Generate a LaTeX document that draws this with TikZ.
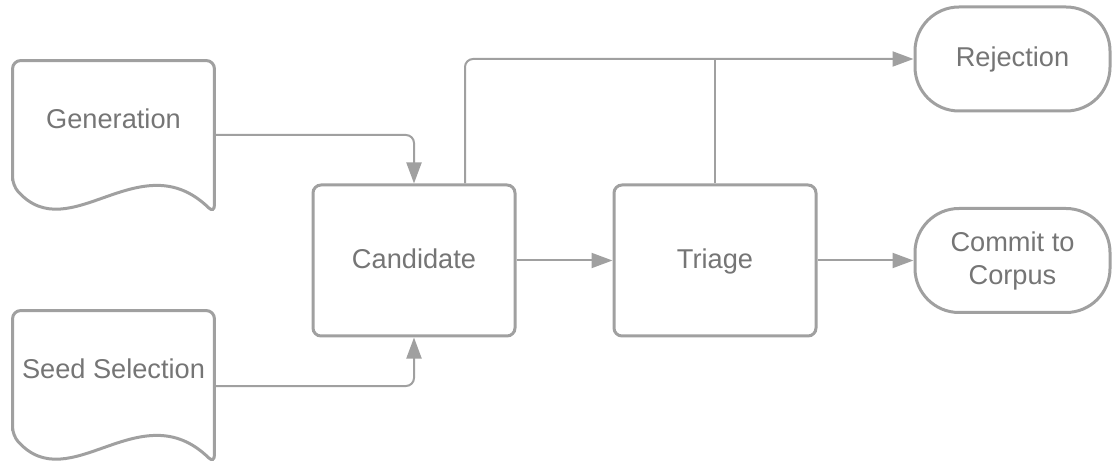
\documentclass[tikz,border=0pt]{standalone}
\usepackage{fontspec}
\setmainfont{Liberation Sans}
\usepackage{tikz}
\usetikzlibrary{arrows.meta}
\definecolor{linegray}{RGB}{160,160,160}
\definecolor{textgray}{RGB}{117,117,117}

\begin{document}
\begin{tikzpicture}[node distance=150.5pt, auto, font=\fontsize{13.6}{16.5}\selectfont, text=textgray]
% Define styles
\tikzstyle{process} = [rectangle, rounded corners=4pt, minimum width=101pt, minimum height=75.5pt, text centered, text height=10pt, text depth=2.2pt, draw=linegray, line width=1.5pt, fill=white]
\tikzstyle{terminal} = [rectangle, rounded corners=22pt, minimum width=97.5pt, minimum height=52pt, align=center, draw=linegray, line width=1.5pt, fill=white]
\tikzstyle{docnode} = [rectangle, minimum width=100.5pt, minimum height=62pt, inner sep=1pt, text height=10pt, text depth=4.4pt, text centered]
\tikzstyle{docline} = [draw=linegray, line width=1.5pt, rounded corners=4pt]
\tikzstyle{line} = [draw=linegray, line width=1pt, rounded corners=4pt]
\tikzstyle{arrow} = [line, -{Triangle[length=10.5pt,width=7.5pt]}]

\useasboundingbox (-207pt,-102.25pt) rectangle (349pt,130.25pt);

% Place nodes
\node [process] (cand) {Candidate};
\node [process, right of=cand] (triage) {Triage};
\node [terminal, right of=triage, node distance=148.75pt] (commit) {Commit to\\Corpus};
\node [terminal, above of=commit, node distance=100.75pt] (reject) {Rejection};
\node [docnode] (gen) at (-150.25pt,68.75pt) {Generation};
\node [docnode] (seed) at (-150.25pt,-56.25pt) {Seed Selection};

% Document outlines
\foreach \n in {gen,seed}
  \draw [docline] (\n.south west) -- (\n.north west) -- (\n.north east) -- ([yshift=-14pt]\n.south east)
    .. controls +(-37pt,36pt) and +(28.5pt,-32pt) .. (\n.south west) -- cycle;

% Draw arrows
\draw [arrow] ([yshift=-6pt]gen.east) -| (cand.north);
\draw [arrow] ([yshift=-6.5pt]seed.east) -| (cand.south);
\draw [arrow] (cand) -- (triage);
\draw [arrow] (triage.east) -- (triage.east -| commit.west);
\draw [arrow] ([xshift=25.5pt]cand.north) |- (reject.west);
\draw [line] (triage.north) -- (triage.north |- reject.west);
\end{tikzpicture}
\end{document}
